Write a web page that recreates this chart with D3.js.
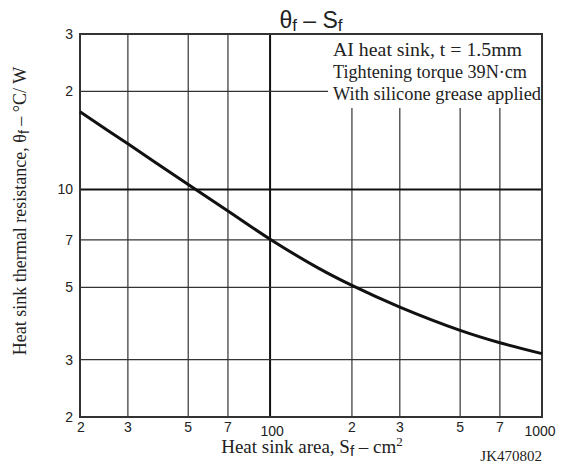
<!DOCTYPE html>
<html><head><meta charset="utf-8">
<script src="https://cdn.jsdelivr.net/npm/d3@7"></script>
<style>body{margin:0;background:#fff}svg{display:block}</style>
</head><body>
<script>
const areas = [20, 30, 50, 70, 100, 150, 200, 300, 500, 700, 1000];
const resist = [17.3, 13.8, 10.35, 8.58, 7.03, 5.74, 5.07, 4.35, 3.69, 3.38, 3.13];
const xTicks = [20, 30, 50, 70, 100, 200, 300, 500, 700, 1000];
const xTickLabels = ["2", "3", "5", "7", "100", "2", "3", "5", "7", "1000"];
const yTicks = [2, 3, 5, 7, 10, 20, 30];
const yTickLabels = ["2", "3", "5", "7", "10", "2", "3"];
const notes = ["AI heat sink, t = 1.5mm", "Tightening torque 39N\u00b7cm", "With silicone grease applied"];

const W = 561, H = 466;
const L = 80, R = 542, T = 34, B = 417;
const svg = d3.select("body").append("svg").attr("width", W).attr("height", H);
const x = d3.scaleLog().domain([20, 1000]).range([L, R]);
const y = d3.scaleLog().domain([2, 30]).range([B, T]);
const sans = "Liberation Sans, Arial, sans-serif";
const serif = "Liberation Serif, Times New Roman, serif";

// grid
const g = svg.append("g");
g.selectAll("line.vx").data(xTicks.filter(d => d > 20 && d < 1000)).enter().append("line")
  .attr("x1", d => x(d)).attr("x2", d => x(d)).attr("y1", T).attr("y2", B)
  .attr("stroke", d => d === 100 ? "#111" : "#333").attr("stroke-width", d => d === 100 ? 2 : 1.2);
g.selectAll("line.hy").data(yTicks.filter(d => d > 2 && d < 30)).enter().append("line")
  .attr("x1", L).attr("x2", R).attr("y1", d => y(d)).attr("y2", d => y(d))
  .attr("stroke", d => d === 10 ? "#111" : "#333").attr("stroke-width", d => d === 10 ? 2 : 1.2);

// annotation box (white background)
svg.append("rect").attr("x", 328).attr("y", T + 1).attr("width", R - 328 - 1).attr("height", 73).attr("fill", "#fff");
svg.append("g").selectAll("text").data(notes).enter().append("text")
  .attr("x", 333).attr("y", (d, i) => 56 + i * 22)
  .attr("font-family", serif).attr("font-size", 19).attr("fill", "#222")
  .attr("textLength", (d, i) => [189, 194, 208][i]).attr("lengthAdjust", "spacingAndGlyphs")
  .text(d => d);

// frame
svg.append("rect").attr("x", L).attr("y", T).attr("width", R - L).attr("height", B - T)
  .attr("fill", "none").attr("stroke", "#333").attr("stroke-width", 2);

// curve
const line = d3.line().x(d => x(d[0])).y(d => y(d[1])).curve(d3.curveCatmullRom);
svg.append("path").datum(areas.map((a, i) => [a, resist[i]]))
  .attr("d", line).attr("fill", "none").attr("stroke", "#111").attr("stroke-width", 3);

// tick labels
svg.append("g").selectAll("text").data(xTicks).enter().append("text")
  .attr("x", (d, i) => x(d) + (i === 0 ? 1 : (d === 1000 ? -2 : (d === 100 ? 2 : 0))))
  .attr("y", d => (d === 100 || d === 1000) ? 436 : 432)
  .attr("text-anchor", "middle").attr("font-family", sans).attr("font-size", 14).attr("fill", "#222")
  .text((d, i) => xTickLabels[i]);
svg.append("g").selectAll("text").data(yTicks).enter().append("text")
  .attr("x", 73).attr("y", d => y(d) + 5)
  .attr("text-anchor", "end").attr("font-family", sans).attr("font-size", 14).attr("fill", "#222")
  .text((d, i) => yTickLabels[i]);

// title
const title = svg.append("text").attr("x", 311).attr("y", 28).attr("text-anchor", "middle")
  .attr("font-family", sans).attr("font-size", 23).attr("fill", "#222");
title.append("tspan").text("\u03b8");
title.append("tspan").attr("font-size", 17).attr("dy", 3).text("f");
title.append("tspan").attr("dy", -3).text(" \u2013 S");
title.append("tspan").attr("font-size", 17).attr("dy", 3).text("f");

// x label
const xl = svg.append("text").attr("x", 312).attr("y", 453).attr("text-anchor", "middle")
  .attr("font-family", serif).attr("font-size", 19).attr("fill", "#222");
xl.append("tspan").text("Heat sink area, S");
xl.append("tspan").attr("font-family", sans).attr("font-size", 15).attr("dy", 3).text("f");
xl.append("tspan").attr("dy", -3).text(" \u2013 cm");
xl.append("tspan").attr("font-size", 13).attr("dy", -7).text("2");

// y label
const yl = svg.append("text").attr("transform", "translate(26,211) rotate(-90)").attr("text-anchor", "middle")
  .attr("font-family", serif).attr("font-size", 18).attr("fill", "#222");
yl.append("tspan").text("Heat sink thermal resistance, \u03b8");
yl.append("tspan").attr("font-family", sans).attr("font-size", 14).attr("dy", 3).text("f");
yl.append("tspan").attr("dy", -3).text(" \u2013 \u00b0C/ W");

svg.append("text").attr("x", 542).attr("y", 461).attr("text-anchor", "end")
  .attr("font-family", serif).attr("font-size", 15).attr("fill", "#222").text("JK470802");
</script>
</body></html>
